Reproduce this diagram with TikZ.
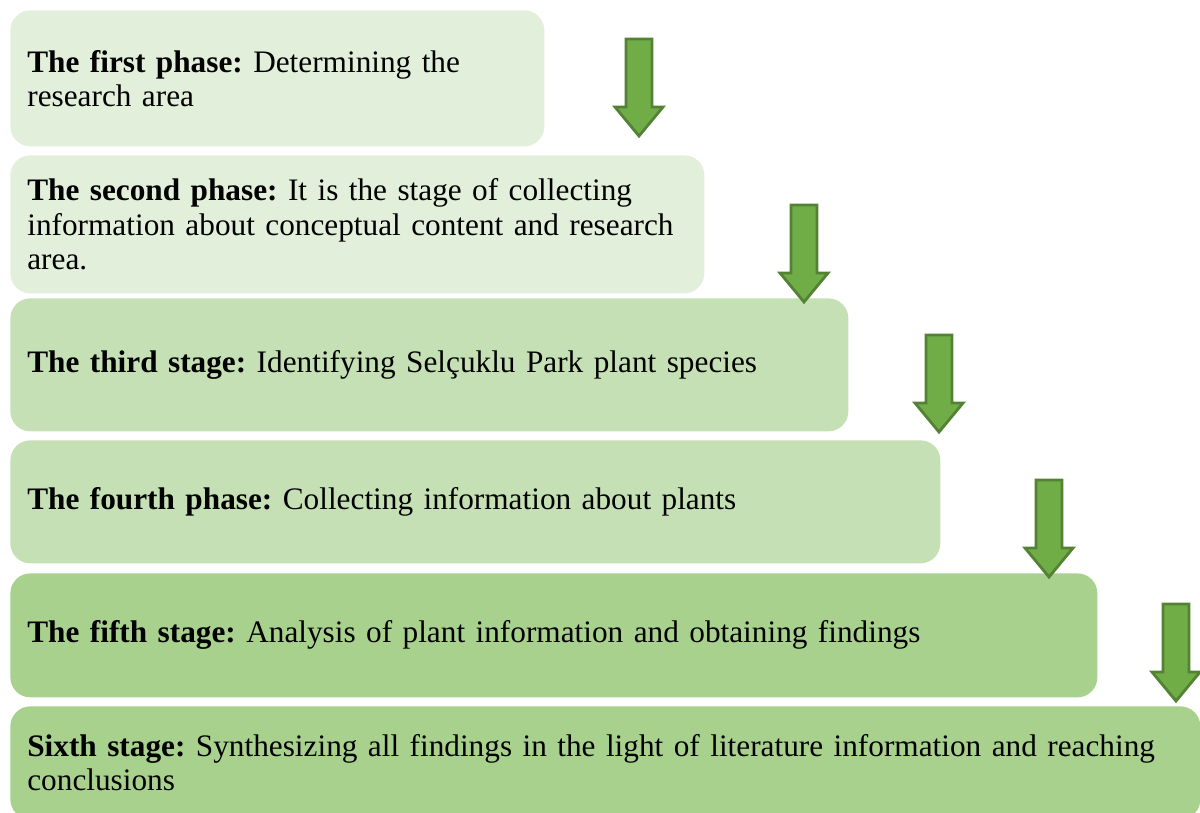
\documentclass[tikz,border=0pt]{standalone}
\usepackage{fontspec}
\setmainfont{Liberation Serif}
\usetikzlibrary{calc}
\definecolor{phaselight}{HTML}{E2EFDA}
\definecolor{phasemid}{HTML}{C5E0B4}
\definecolor{phasedark}{HTML}{A9D18E}
\definecolor{arrowfill}{HTML}{70AD47}
\definecolor{arrowline}{HTML}{548235}
\def\phasearrow(#1,#2){\draw[greenarrow] ($(#1,#2)+(-0.26,0)$) -- ++(0.52,0) -- ++(0,-1.36) -- ++(0.22,0) -- ++(-0.48,-0.58) -- ++(-0.48,0.58) -- ++(0.22,0) -- cycle;}
\frenchspacing

\begin{document}
\begin{tikzpicture}[
	phasebox/.style={anchor=north west, rounded corners=0.4cm, inner xsep=0.34cm, align=left, font=\fontsize{17.8}{19.5}\selectfont},
	greenarrow/.style={fill=arrowfill, draw=arrowline, line width=1.6pt, line join=miter}
	]
			%%%%% START %%%%%
			
			\useasboundingbox (0,0) rectangle (24,-16.26);
			
			\node[phasebox, fill=phaselight, minimum width=10.68cm, minimum height=2.72cm, text width=10cm] (first) at (0.2,-0.2)
				{\textbf{The first phase:} Determining the\\research area};
			\node[phasebox, fill=phaselight, minimum width=13.88cm, minimum height=2.76cm, text width=13.2cm] (second) at (0.2,-3.1)
				{\textbf{The second phase:} It is the stage of collecting\\information about conceptual content and research\\area.};
			\node[phasebox, fill=phasemid, minimum width=16.76cm, minimum height=2.66cm, text width=16.08cm] (third) at (0.2,-5.96)
				{\textbf{The third stage:} Identifying Selçuklu Park plant species};
			\node[phasebox, fill=phasemid, minimum width=18.6cm, minimum height=2.46cm, text width=17.92cm] (fourth) at (0.2,-8.8)
				{\textbf{The fourth phase:} Collecting information about plants};
			\node[phasebox, fill=phasedark, minimum width=21.74cm, minimum height=2.48cm, text width=21.06cm] (fifth) at (0.2,-11.46)
				{\textbf{The fifth stage:} Analysis of plant information and obtaining findings};
			\node[phasebox, fill=phasedark, minimum width=23.8cm, minimum height=2.26cm, text width=23.12cm] (sixth) at (0.2,-14.12)
				{\textbf{Sixth stage:} Synthesizing all findings in the light of literature information and reaching\\conclusions};
			
			\phasearrow(12.78,-0.78)
			\phasearrow(16.08,-4.1)
			\phasearrow(18.78,-6.7)
			\phasearrow(20.98,-9.6)
			\phasearrow(23.52,-12.08)
			
			%%%%% END %%%%%
\end{tikzpicture}
\end{document}
